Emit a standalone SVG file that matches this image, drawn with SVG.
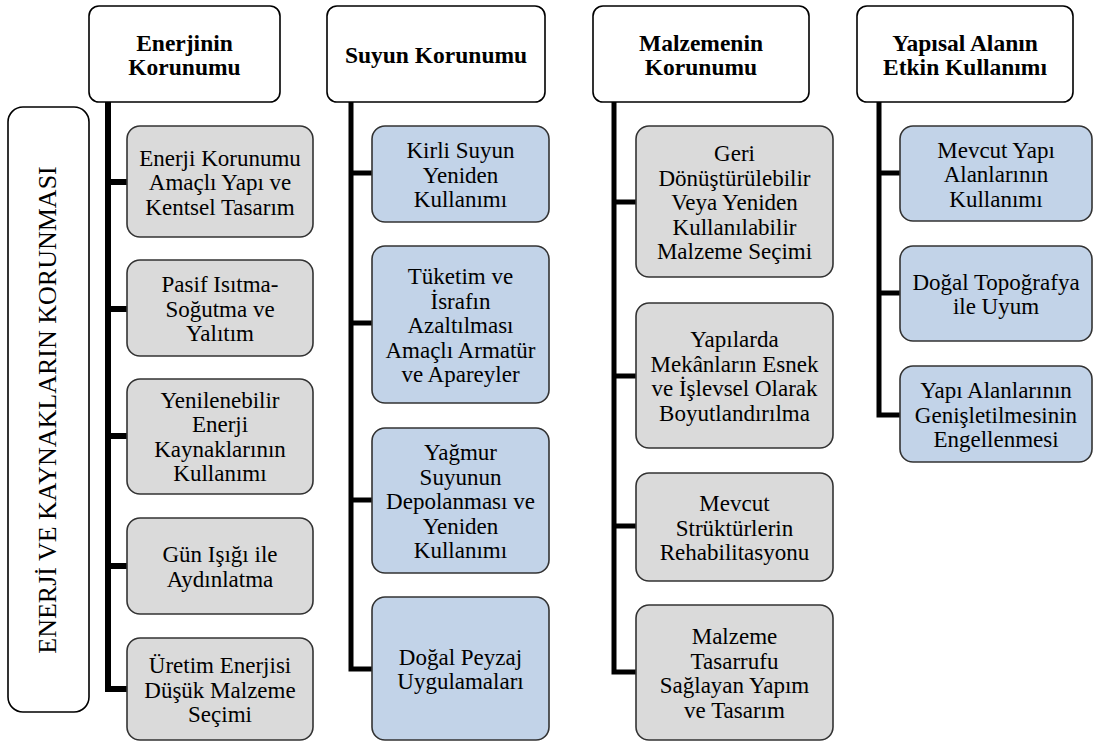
<svg xmlns="http://www.w3.org/2000/svg" width="1094" height="742" viewBox="0 0 1094 742" font-family="'Liberation Serif', 'Times New Roman', serif">
<style>
text{font-family:'Liberation Serif','Times New Roman',serif;fill:#000;text-anchor:middle}
.h rect{fill:#fff;stroke:#000;stroke-width:1.6}
.h text{font-size:23.5px;font-weight:bold}
.g rect{fill:#dadada;stroke:#333;stroke-width:1.6}
.b rect{fill:#c2d3e8;stroke:#333;stroke-width:1.6}
.c text{font-size:23px}
.side rect{fill:#fff;stroke:#000;stroke-width:1.6}
.side text{font-size:26px}
.conn path{fill:none;stroke:#000;stroke-linejoin:miter;stroke-linecap:butt}
</style>
<rect width="1094" height="742" fill="#fff"/>
<g class="conn">
<path stroke-width="6" d="M108 102 V689 H127 M105 182 H127 M105 309 H127 M105 436 H127 M105 566 H127"/>
<path stroke-width="5" d="M351 102 V669 H372 M349 173 H372 M349 323 H372 M349 500 H372"/>
<path stroke-width="5" d="M614 102 V672 H636 M612 202 H636 M612 376 H636 M612 526 H636"/>
<path stroke-width="5" d="M879 102 V415 H900 M877 173 H900 M877 293 H900"/>
</g>
<g id="side" class="side">
<rect x="8" y="107" width="81" height="605" rx="15"/>
<text transform="translate(56 410) rotate(-90)">ENERJİ VE KAYNAKLARIN KORUNMASI</text>
</g>
<g id="h1" class="h"><rect x="89" y="6" width="191" height="96" rx="10"/><text x="184.5" y="50.5">Enerjinin</text><text x="184.5" y="75">Korunumu</text></g>
<g id="h2" class="h"><rect x="327" y="6" width="218" height="96" rx="10"/><text x="436" y="62.5">Suyun Korunumu</text></g>
<g id="h3" class="h"><rect x="593" y="6" width="216" height="96" rx="10"/><text x="701" y="50.5">Malzemenin</text><text x="701" y="75">Korunumu</text></g>
<g id="h4" class="h"><rect x="857" y="6" width="216" height="96" rx="10"/><text x="965" y="50.5">Yapısal Alanın</text><text x="965" y="75">Etkin Kullanımı</text></g>

<g id="e1" class="c g"><rect x="127" y="126" width="186" height="111" rx="13"/><text x="220" y="165.5">Enerji Korunumu</text><text x="220" y="190">Amaçlı Yapı ve</text><text x="220" y="214.5">Kentsel Tasarım</text></g>
<g id="e2" class="c g"><rect x="127" y="260" width="186" height="96" rx="13"/><text x="220" y="292">Pasif Isıtma-</text><text x="220" y="316.5">Soğutma ve</text><text x="220" y="341">Yalıtım</text></g>
<g id="e3" class="c g"><rect x="127" y="379" width="186" height="115" rx="13"/><text x="220" y="407.75">Yenilenebilir</text><text x="220" y="432.25">Enerji</text><text x="220" y="456.75">Kaynaklarının</text><text x="220" y="481.25">Kullanımı</text></g>
<g id="e4" class="c g"><rect x="127" y="518" width="186" height="96" rx="13"/><text x="220" y="562.25">Gün Işığı ile</text><text x="220" y="586.75">Aydınlatma</text></g>
<g id="e5" class="c g"><rect x="127" y="638" width="186" height="102" rx="13"/><text x="220" y="673">Üretim Enerjisi</text><text x="220" y="697.5">Düşük Malzeme</text><text x="220" y="722">Seçimi</text></g>

<g id="s1" class="c b"><rect x="372" y="126" width="177" height="96" rx="13"/><text x="460.5" y="158">Kirli Suyun</text><text x="460.5" y="182.5">Yeniden</text><text x="460.5" y="207">Kullanımı</text></g>
<g id="s2" class="c b"><rect x="372" y="246" width="177" height="157" rx="13"/><text x="460.5" y="284">Tüketim ve</text><text x="460.5" y="308.5">İsrafın</text><text x="460.5" y="333">Azaltılması</text><text x="460.5" y="357.5">Amaçlı Armatür</text><text x="460.5" y="382">ve Apareyler</text></g>
<g id="s3" class="c b"><rect x="372" y="428" width="177" height="145" rx="13"/><text x="460.5" y="460">Yağmur</text><text x="460.5" y="484.5">Suyunun</text><text x="460.5" y="509">Depolanması ve</text><text x="460.5" y="533.5">Yeniden</text><text x="460.5" y="558">Kullanımı</text></g>
<g id="s4" class="c b"><rect x="372" y="597" width="177" height="143" rx="13"/><text x="460.5" y="664.75">Doğal Peyzaj</text><text x="460.5" y="689.25">Uygulamaları</text></g>

<g id="m1" class="c g"><rect x="636" y="126" width="197" height="151" rx="13"/><text x="734.5" y="161">Geri</text><text x="734.5" y="185.5">Dönüştürülebilir</text><text x="734.5" y="210">Veya Yeniden</text><text x="734.5" y="234.5">Kullanılabilir</text><text x="734.5" y="259">Malzeme Seçimi</text></g>
<g id="m2" class="c g"><rect x="636" y="303" width="197" height="145" rx="13"/><text x="734.5" y="347.25">Yapılarda</text><text x="734.5" y="371.75">Mekânların Esnek</text><text x="734.5" y="396.25">ve İşlevsel Olarak</text><text x="734.5" y="420.75">Boyutlandırılma</text></g>
<g id="m3" class="c g"><rect x="636" y="473" width="197" height="108" rx="13"/><text x="734.5" y="511">Mevcut</text><text x="734.5" y="535.5">Strüktürlerin</text><text x="734.5" y="560">Rehabilitasyonu</text></g>
<g id="m4" class="c g"><rect x="636" y="605" width="197" height="135" rx="13"/><text x="734.5" y="644.25">Malzeme</text><text x="734.5" y="668.75">Tasarrufu</text><text x="734.5" y="693.25">Sağlayan Yapım</text><text x="734.5" y="717.75">ve Tasarım</text></g>

<g id="y1" class="c b"><rect x="900" y="126" width="192" height="95" rx="13"/><text x="996" y="157.5">Mevcut Yapı</text><text x="996" y="182">Alanlarının</text><text x="996" y="206.5">Kullanımı</text></g>
<g id="y2" class="c b"><rect x="900" y="246" width="192" height="95" rx="13"/><text x="996" y="289.75">Doğal Topoğrafya</text><text x="996" y="314.25">ile Uyum</text></g>
<g id="y3" class="c b"><rect x="900" y="366" width="192" height="96" rx="13"/><text x="996" y="398">Yapı Alanlarının</text><text x="996" y="422.5">Genişletilmesinin</text><text x="996" y="447">Engellenmesi</text></g>
</svg>
